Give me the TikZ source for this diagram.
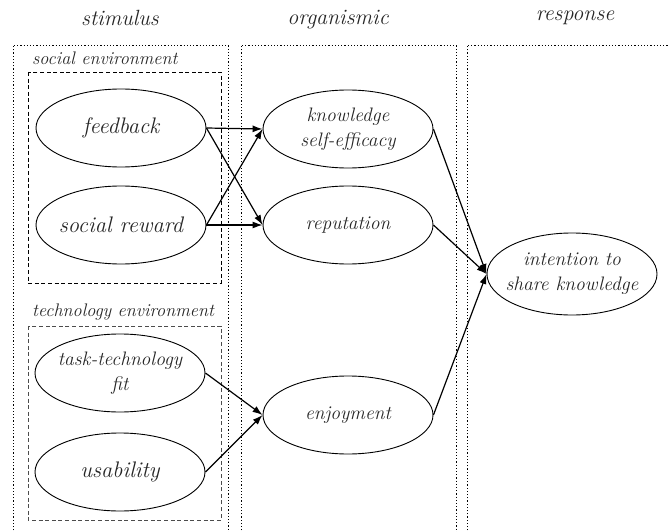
\documentclass[tikz,border=0pt]{standalone}
\usetikzlibrary{arrows.meta,shapes.geometric}

\begin{document}
\begin{tikzpicture}[x=1pt, y=-1pt, >={Latex[length=10pt,width=7pt]},
    every node/.style={text=black!85},
    construct/.style={draw, ellipse, line width=0.9pt, minimum width=170pt,
                      minimum height=78pt, inner xsep=-25pt, inner ysep=0pt,
                      align=center, font=\fontsize{19.5}{25}\selectfont\itshape},
    large/.style={font=\fontsize{22.5}{26}\selectfont\itshape},
    title/.style={font=\fontsize{22}{26}\selectfont\itshape},
    group label/.style={anchor=west, inner sep=0pt,
                        font=\fontsize{18.2}{22}\selectfont\itshape},
    layer/.style={draw, line width=0.9pt, dash pattern=on 1.2pt off 2pt},
    group/.style={draw, line width=0.9pt, dash pattern=on 4pt off 2.6pt}]

  \useasboundingbox (0,0) rectangle (669,532);

  % layers of the model
  \node[title] (stim) at (120,18) {stimulus};
  \node[title] (org)  at (338,20) {organismic};
  \node[title] (resp) at (575,18) {response};

  \draw[layer] (13,540) -- (13,45) -- (228,45) -- (228,540);
  \draw[layer] (241,540) -- (241,45) -- (456,45) -- (456,540);
  \draw[layer] (467,540) -- (467,45) -- (680,45);

  % environments
  \node[group label] (social) at (32,58) {social environment};
  \draw[group] (28,72) rectangle (221,283);
  \node[group label] (tech) at (32,312) {technology environment};
  \draw[group, black!70] (28,326) rectangle (221,520);

  \node[construct, large] (fb)  at (121,128) {feedback};
  \node[construct, large] (sr)  at (121,225) {social reward};
  \node[construct]        (ttf) at (120,373) {task-technology\\fit};
  \node[construct, large] (us)  at (120,472) {usability};

  \node[construct] (kse) at (348,129) {knowledge\\self-efficacy};
  \node[construct] (rep) at (348,225) {reputation};
  \node[construct] (enj) at (348,415) {enjoyment};

  \node[construct, minimum height=82pt] (int) at (572,274) {intention to\\share knowledge};

  \path[->, line width=1.2pt]
    (fb.east)  edge (kse.west)
               edge (rep.west)
    (sr.east)  edge (kse.west)
               edge (rep.west)
    (ttf.east) edge (enj.west)
    (us.east)  edge (enj.west)
    (kse.east) edge (int.west)
    (rep.east) edge (int.west)
    (enj.east) edge (int.west);
\end{tikzpicture}
\end{document}
